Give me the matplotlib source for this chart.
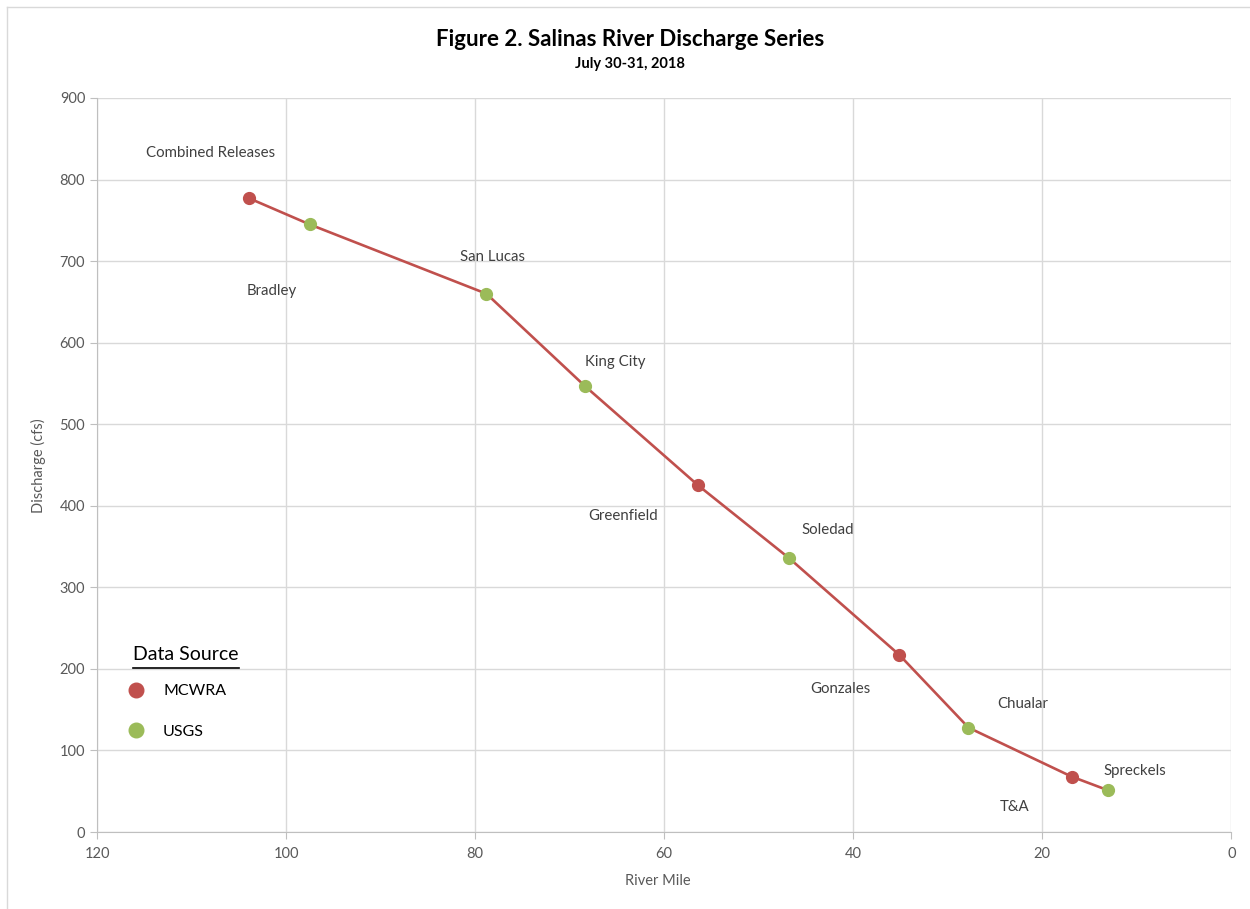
import matplotlib.pyplot as plt
from matplotlib.lines import Line2D

plt.rcParams["font.family"] = ["Lato", "DejaVu Sans"]

# stations along the river, upstream to downstream
stations = ["Combined Releases", "Bradley", "San Lucas", "King City", "Greenfield",
            "Soledad", "Gonzales", "Chualar", "T&A", "Spreckels"]
river_mile = [103.9, 97.5, 78.8, 68.4, 56.4, 46.8, 35.1, 27.8, 16.9, 13.0]
discharge = [777, 745, 660, 547, 425, 336, 217, 128, 68, 51]
source = ["MCWRA", "USGS", "USGS", "USGS", "MCWRA",
          "USGS", "MCWRA", "USGS", "MCWRA", "USGS"]

# label offsets (pixels) from each point, as placed in the original
label_offsets = [(-39, 45), (-38, -67), (6, 37), (31, 24), (-75, -31),
                 (39, 28), (-59, -34), (54, 24), (-57, -30), (26, 19)]

RED = "#C0504D"
GREEN = "#9BBB59"
colors = {"MCWRA": RED, "USGS": GREEN}
GRID = "#D9D9D9"
TICK = "#595959"

fig = plt.figure(figsize=(12.5, 9.09), dpi=100)
ax = fig.add_axes([0.0776, 0.0847, 0.9074, 0.8075])

ax.plot(river_mile, discharge, color=RED, linewidth=1.9, zorder=2)
for x, y, s in zip(river_mile, discharge, source):
    ax.plot(x, y, "o", color=colors[s], markersize=8.5, zorder=3)

for name, x, y, (dx, dy) in zip(stations, river_mile, discharge, label_offsets):
    ax.annotate(name, (x, y), xytext=(dx, dy), textcoords="offset pixels",
                ha="center", va="center", fontsize=10.8, color="#404040")

ax.set_xlim(120, 0)
ax.set_ylim(0, 900)
ax.set_xticks(range(120, -1, -20))
ax.set_yticks(range(0, 901, 100))
ax.grid(True, color=GRID, linewidth=1)
ax.set_axisbelow(True)
for side in ("top", "right"):
    ax.spines[side].set_visible(False)
for side in ("left", "bottom"):
    ax.spines[side].set_color("#BFBFBF")
ax.tick_params(colors="#BFBFBF", labelcolor=TICK, labelsize=10.5, length=5, direction="out")
ax.tick_params(axis="x", pad=6)

fig.text(0.031, 0.488, "Discharge (cfs)", rotation=90, ha="center", va="center",
         fontsize=10.5, color=TICK)
fig.text(0.5264, 0.031, "River Mile", ha="center", va="center", fontsize=10.5, color=TICK)

fig.text(0.504, 0.956, "Figure 2. Salinas River Discharge Series", ha="center", va="center",
         fontsize=16, fontweight="bold", color="black")
fig.text(0.504, 0.930, "July 30-31, 2018", ha="center", va="center",
         fontsize=10.5, fontweight="bold", color="black")

# hand-made legend
fig.text(0.1065, 0.2795, "Data Source", ha="left", va="center", fontsize=14, color="black")
fig.add_artist(Line2D([0.1065, 0.1915], [0.2650, 0.2650], color="black", linewidth=1.2))
handles = [Line2D([], [], marker="o", linestyle="none", color=colors[k], markersize=10.5)
           for k in ("MCWRA", "USGS")]
fig.legend(handles, ["MCWRA", "USGS"], loc="upper left", bbox_to_anchor=(0.0845, 0.263),
           frameon=False, fontsize=11.5, handletextpad=0.7, labelspacing=1.65)

# chart-area border (left and top edges visible)
fig.add_artist(Line2D([0.0056, 0.0056], [0.0, 0.9923], color=GRID, linewidth=1))
fig.add_artist(Line2D([0.0056, 1.0], [0.9923, 0.9923], color=GRID, linewidth=1))

fig.savefig("out.png", dpi=100)
